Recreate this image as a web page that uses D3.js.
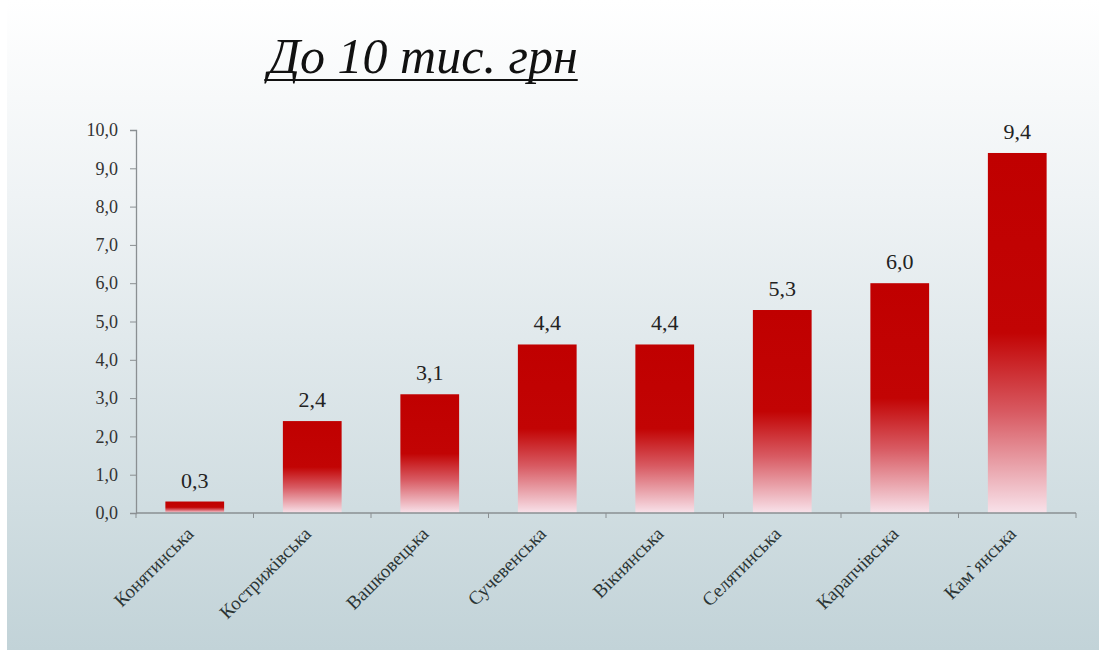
<!DOCTYPE html>
<html><head><meta charset="utf-8">
<script src="https://cdn.jsdelivr.net/npm/d3@7/dist/d3.min.js"></script>
<style>body{margin:0;padding:0;overflow:hidden}</style>
</head><body>
<svg id="c" width="1099" height="652"></svg>
<script>
const categories = ["Конятинська","Кострижівська","Вашковецька","Сучевенська","Вікнянська","Селятинська","Карапчівська","Кам`янська"];
const values = [0.3, 2.4, 3.1, 4.4, 4.4, 5.3, 6.0, 9.4];
const yTicks = [0,1,2,3,4,5,6,7,8,9,10];
const title = "До 10 тис. грн";

const W = 1099, H = 652;
const svg = d3.select("#c");
const defs = svg.append("defs");
const bg = defs.append("linearGradient").attr("id","bg").attr("x1",0).attr("y1",0).attr("x2",0).attr("y2",1);
bg.append("stop").attr("offset","0%").attr("stop-color","#ffffff");
bg.append("stop").attr("offset","30%").attr("stop-color","#eff3f5");
bg.append("stop").attr("offset","100%").attr("stop-color","#c2d3d8");
const bar = defs.append("linearGradient").attr("id","bar").attr("x1",0).attr("y1",0).attr("x2",0).attr("y2",1);
bar.append("stop").attr("offset","0%").attr("stop-color","#c00000");
bar.append("stop").attr("offset","50%").attr("stop-color","#c20404");
bar.append("stop").attr("offset","72%").attr("stop-color","#d85a62");
bar.append("stop").attr("offset","100%").attr("stop-color","#f8e2ea");

svg.append("rect").attr("width",W).attr("height",H).attr("fill","#ffffff");
svg.append("rect").attr("x",7).attr("width",W-7).attr("height",H-2).attr("fill","url(#bg)");

const m = {left:136, right:1076, top:130, bottom:513};
const x = d3.scaleBand().domain(categories).range([m.left, m.right]).paddingInner(0.5).paddingOuter(0.25);
const y = d3.scaleLinear().domain([0,10]).range([m.bottom, m.top]);

// title
const t = svg.append("text").attr("x",423).attr("y",73).attr("text-anchor","middle")
  .attr("font-family","'Liberation Serif', 'Times New Roman', serif").attr("font-style","italic")
  .attr("font-size",50).attr("fill","#111").text(title);
const bb = t.node().getBBox();
svg.append("line").attr("x1",bb.x).attr("x2",bb.x+bb.width).attr("y1",80).attr("y2",80)
  .attr("stroke","#111").attr("stroke-width",2.2);

// y axis
const ya = svg.append("g").attr("transform",`translate(${m.left},0)`)
  .call(d3.axisLeft(y).tickValues(yTicks).tickSize(6).tickPadding(12).tickFormat(d => d3.format(".1f")(d).replace(".",",")));
ya.select(".domain").attr("stroke","#8a8f92").attr("stroke-width",1.3);
ya.selectAll(".tick line").attr("stroke","#8a8f92");
ya.selectAll(".tick text").attr("font-family","'Liberation Serif', serif").attr("font-size",18).attr("fill","#333");

// bars
svg.selectAll("rect.bar").data(values).enter().append("rect").attr("class","bar")
  .attr("x",(d,i)=>x(categories[i])).attr("width",x.bandwidth())
  .attr("y",d=>y(d)).attr("height",d=>y(0)-y(d)).attr("fill","url(#bar)");

// x axis
const xa = svg.append("g").attr("transform",`translate(0,${m.bottom})`);
xa.append("line").attr("x1",m.left).attr("x2",m.right).attr("stroke","#8a8f92").attr("stroke-width",1.3);
const bounds = d3.range(categories.length+1).map(i => m.left + i*(m.right-m.left)/categories.length);
xa.selectAll("line.tk").data(bounds).enter().append("line").attr("class","tk")
  .attr("x1",d=>d).attr("x2",d=>d).attr("y1",0).attr("y2",5).attr("stroke","#8a8f92");
xa.selectAll("text").data(categories).enter().append("text")
  .attr("transform",d=>`translate(${x(d)+x.bandwidth()/2},${22}) rotate(-45)`)
  .attr("text-anchor","end").attr("font-family","'Liberation Serif', serif").attr("font-size",19).attr("fill","#2b3535").text(d=>d);

// value labels
svg.selectAll("text.val").data(values).enter().append("text").attr("class","val")
  .attr("x",(d,i)=>x(categories[i])+x.bandwidth()/2).attr("y",d=>y(d)-14)
  .attr("text-anchor","middle").attr("font-family","'Liberation Serif', serif").attr("font-size",22).attr("fill","#222")
  .text(d=>d3.format(".1f")(d).replace(".",","));
</script>
</body></html>
